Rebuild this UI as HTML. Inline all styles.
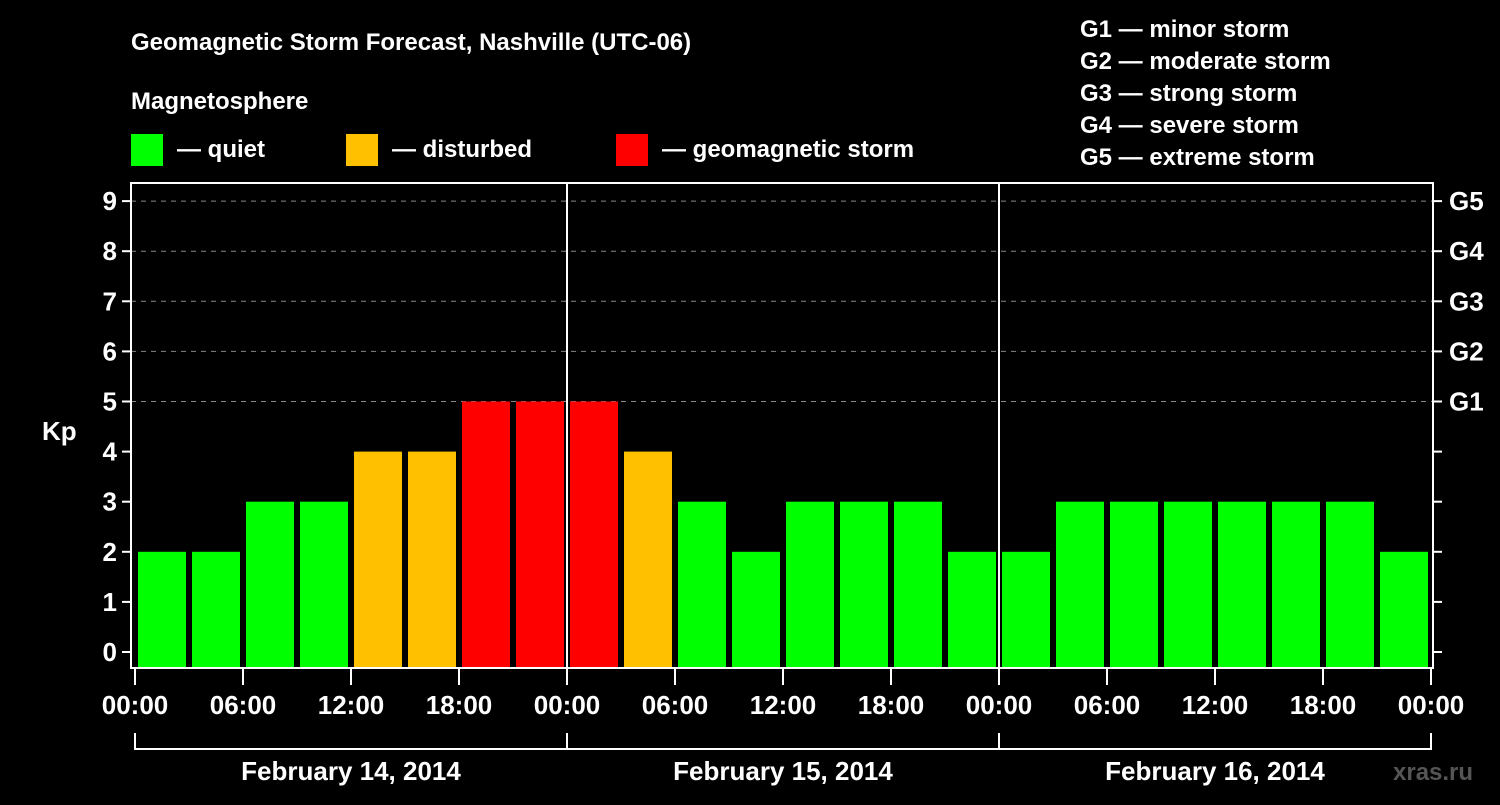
<!DOCTYPE html>
<html><head><meta charset="utf-8"><style>
body{margin:0;background:#000;width:1500px;height:800px;overflow:hidden}
text{font-family:"Liberation Sans",Arial,sans-serif;font-weight:bold;fill:#fff}
</style></head><body>
<svg id="chart" width="1500" height="800" xmlns="http://www.w3.org/2000/svg">
<text x="131" y="50" font-size="24">Geomagnetic Storm Forecast, Nashville (UTC-06)</text>
<text x="131" y="109" font-size="24">Magnetosphere</text>
<rect x="131" y="134" width="32" height="32" fill="#00ff00"/>
<text x="177" y="157" font-size="24">— quiet</text>
<rect x="346" y="134" width="32" height="32" fill="#ffc000"/>
<text x="392" y="157" font-size="24">— disturbed</text>
<rect x="616" y="134" width="32" height="32" fill="#ff0000"/>
<text x="662" y="157" font-size="24">— geomagnetic storm</text>
<g font-size="24">
<text x="1080" y="37">G1 — minor storm</text>
<text x="1080" y="69">G2 — moderate storm</text>
<text x="1080" y="101">G3 — strong storm</text>
<text x="1080" y="133">G4 — severe storm</text>
<text x="1080" y="165">G5 — extreme storm</text>
</g>
<text x="42" y="440" font-size="26">Kp</text>
<text x="1393" y="780" font-size="24" style="fill:#555">xras.ru</text>
<g id="plot"></g>
</svg>
<script>
const values=[2,2,3,3,4,4,5,5,5,4,3,2,3,3,3,2,2,3,3,3,3,3,3,2];
const yTicks=[0,1,2,3,4,5,6,7,8,9];
const gLabels=["G1","G2","G3","G4","G5"];
const xLabels=["00:00","06:00","12:00","18:00","00:00","06:00","12:00","18:00","00:00","06:00","12:00","18:00","00:00"];
const dayLabels=["February 14, 2014","February 15, 2014","February 16, 2014"];
const NS="http://www.w3.org/2000/svg";
const g=document.getElementById('plot');
const x0=135,dayW=432,barW=dayW/8;
const L=131,R=1433,T=183,B=668;
function y(v){return 652-50.1*v;}
function xh(h){return x0+h*dayW/24;}
function mk(t,a,p){const e=document.createElementNS(NS,t);for(const k in a)e.setAttribute(k,a[k]);(p||g).appendChild(e);return e;}
yTicks.forEach(v=>{
  if(v>=5){const l=mk('line',{x1:L,x2:R,y1:y(v),y2:y(v),stroke:'#888','stroke-dasharray':'5,5','stroke-width':1});
  }
  const tl=mk('line',{x1:L-9,x2:L,y1:y(v),y2:y(v),stroke:'#fff','stroke-width':2});
  
  const tr=mk('line',{x1:R,x2:R+9,y1:y(v),y2:y(v),stroke:'#fff','stroke-width':2});
  
  const t=mk('text',{x:L-14,y:y(v)+9,'text-anchor':'end','font-size':26});t.textContent=v;
  
});
gLabels.forEach((s,i)=>{const t=mk('text',{x:1449,y:y(5+i)+9,'font-size':26});t.textContent=s;
  });
values.forEach((v,i)=>{
  const c=v>=5?'#ff0000':(v>=4?'#ffc000':'#00ff00');
  const r=mk('rect',{x:x0+i*barW+3,y:y(v),width:barW-6,height:B-y(v),fill:c});
  
});
const fr=mk('rect',{x:L,y:T,width:R-L,height:B-T,fill:'none',stroke:'#fff','stroke-width':2});

[1,2].forEach(d=>{const l=mk('line',{x1:x0+d*dayW,x2:x0+d*dayW,y1:T,y2:B,stroke:'#fff','stroke-width':2});
  });
xLabels.forEach((s,i)=>{const x=xh(i*6);
  const tk=mk('line',{x1:x,x2:x,y1:B,y2:B+17,stroke:'#fff','stroke-width':2});
  
  const t=mk('text',{x:x,y:714,'text-anchor':'middle','font-size':26});t.textContent=s;
  });
const bl=mk('line',{x1:x0,x2:x0+3*dayW,y1:749,y2:749,stroke:'#fff','stroke-width':2});

[0,1,2,3].forEach(d=>{const l=mk('line',{x1:x0+d*dayW,x2:x0+d*dayW,y1:733,y2:750,stroke:'#fff','stroke-width':2});
  });
dayLabels.forEach((s,d)=>{const t=mk('text',{x:x0+d*dayW+dayW/2,y:780,'text-anchor':'middle','font-size':26});t.textContent=s;
  });
</script>
</body></html>
